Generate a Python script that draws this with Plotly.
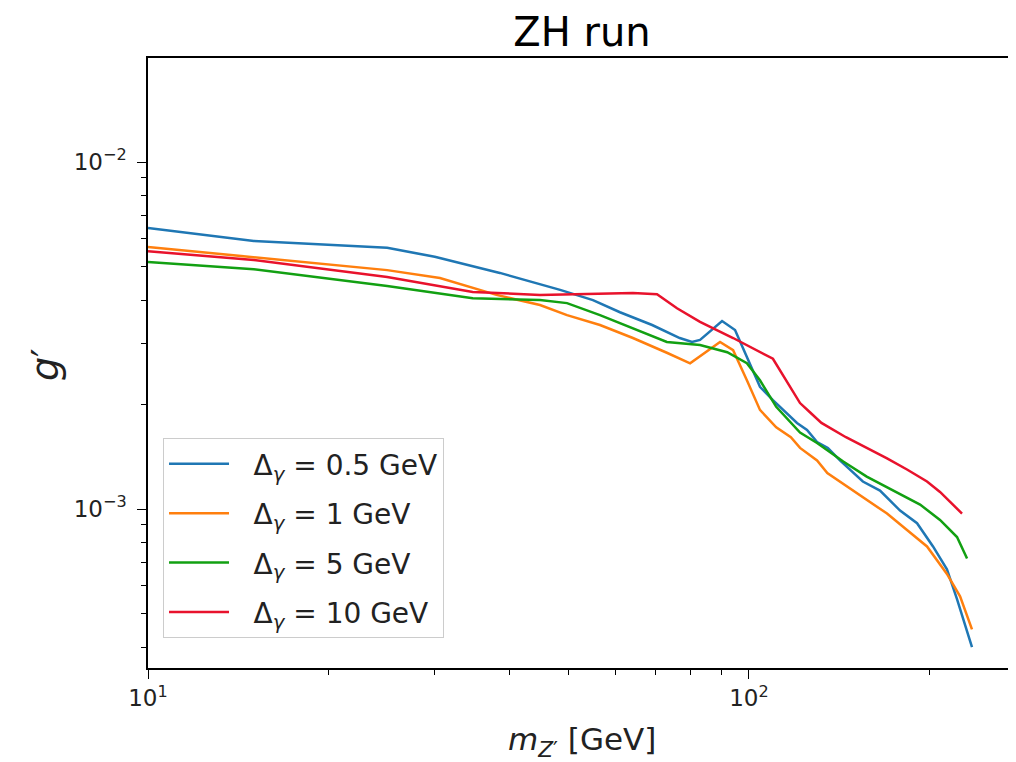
import plotly.graph_objects as go

# ---- data ----
mass_05 = [10, 15, 25, 30, 38.5, 45, 48.5, 55, 61, 69, 76.7, 80.4, 82.9, 90.2, 94.8, 99.2,
           104.3, 109.6, 115.7, 120.2, 124.9, 129.8, 135.3, 141.7, 154.7, 165.2, 178.4,
           190.4, 202.4, 213.5, 221.9, 235]
g_05 = [0.00645, 0.00592, 0.00566, 0.00533, 0.00479, 0.00445, 0.00428, 0.00400, 0.00369,
        0.00339, 0.00311, 0.00303, 0.00307, 0.00348, 0.00328, 0.00274, 0.00225, 0.00206,
        0.00189, 0.00177, 0.00169, 0.00156, 0.00150, 0.00138, 0.00120, 0.00113, 0.00099,
        0.00091, 0.00078, 0.00067, 0.00055, 0.00040]

mass_1 = [10, 15, 25, 30.6, 38, 44.9, 49.8, 56.5, 64.1, 73, 79.8, 89.5, 94.1, 99.2, 104.3,
          111, 117.4, 121.6, 129.8, 135, 148.9, 157, 169.7, 183.2, 197.8, 213.5, 224.5, 235]
g_1 = [0.00569, 0.00532, 0.00488, 0.00463, 0.00414, 0.00387, 0.00362, 0.00339, 0.00311,
       0.00282, 0.00263, 0.00303, 0.00287, 0.00235, 0.00193, 0.00172, 0.00161, 0.00150,
       0.00138, 0.00127, 0.00113, 0.00106, 0.00097, 0.00087, 0.00078, 0.00065, 0.00056,
       0.00045]

mass_5 = [10, 15, 25, 34.7, 44.9, 49.8, 56.5, 64.1, 73, 82.9, 92, 99.2, 104.3, 111, 121.6,
          129.8, 143.5, 157, 173.6, 192.6, 207.9, 221.9, 230.6]
g_5 = [0.00515, 0.00491, 0.00439, 0.00405, 0.00400, 0.00392, 0.00362, 0.00332, 0.00303,
       0.00297, 0.00283, 0.00263, 0.00235, 0.00197, 0.00166, 0.00155, 0.00137, 0.00124,
       0.00113, 0.00103, 0.00093, 0.00083, 0.00072]

mass_10 = [10, 15, 25, 34.7, 44.9, 49.8, 64.1, 70.3, 75.9, 82.9, 94.1, 109.6, 116, 120.2,
           121.6, 126.3, 132, 145, 157, 169.7, 183.2, 197.8, 207.9, 226.2]
g_10 = [0.00553, 0.00522, 0.00466, 0.00422, 0.00414, 0.00416, 0.00419, 0.00416, 0.00379,
        0.00346, 0.00311, 0.00271, 0.00232, 0.00209, 0.00202, 0.00190, 0.00177, 0.00161,
        0.00150, 0.00140, 0.00130, 0.00120, 0.00112, 0.00097]

series_labels = ["Δ<sub><i>γ</i></sub> = 0.5 GeV", "Δ<sub><i>γ</i></sub> = 1 GeV",
                 "Δ<sub><i>γ</i></sub> = 5 GeV", "Δ<sub><i>γ</i></sub> = 10 GeV"]
series_x = [mass_05, mass_1, mass_5, mass_10]
series_y = [g_05, g_1, g_5, g_10]
colors = ["#1f77b4", "#ff7f0e", "#12a012", "#e8122c"]

x_major = [10, 100]
x_major_text = ["10<sup>1</sup>", "10<sup>2</sup>"]
x_minor = [20, 30, 40, 50, 60, 70, 80, 90, 200]
y_major = [1e-3, 1e-2]
y_major_text = ["10<sup>−3</sup>", "10<sup>−2</sup>"]
y_minor = [4e-4, 5e-4, 6e-4, 7e-4, 8e-4, 9e-4, 2e-3, 3e-3, 4e-3, 5e-3, 6e-3, 7e-3, 8e-3, 9e-3, 2e-2]

FONT = "DejaVu Sans"
W, H = 1008, 754  # page body has an 8px margin

fig = go.Figure()
for i, (xs, ys, lab, c) in enumerate(zip(series_x, series_y, series_labels, colors)):
    fig.add_trace(go.Scatter(x=xs, y=ys, mode="lines", name="\u2002\u2009" + lab,
                             line=dict(color=c, width=2.5), legendgroup=f"g{i}"))

fig.update_layout(
    width=W, height=H,
    margin=dict(l=140, r=0, t=50, b=94, autoexpand=False),
    paper_bgcolor="white", plot_bgcolor="white",
    font=dict(family=FONT, color="#222222"),
    title=dict(text="ZH run", x=0.5, xref="paper", xanchor="center",
               y=1 - 24 / H, yref="container", yanchor="middle",
               font=dict(size=40, family=FONT, color="black")),
    showlegend=True,
    legend=dict(x=0.0173, y=0.049, xanchor="left", yanchor="bottom",
                bgcolor="rgba(255,255,255,0.8)", bordercolor="#cccccc", borderwidth=1,
                font=dict(size=28, family=FONT, color="#222222"),
                tracegroupgap=10, itemwidth=60),
)

fig.update_xaxes(type="log", range=[1, 2.4443], showgrid=False, zeroline=False,
                 showline=True, linecolor="black", linewidth=1.5, mirror=True,
                 ticks="outside", ticklen=9, tickwidth=1.3, tickcolor="black",
                 tickvals=x_major, ticktext=x_major_text, automargin=False,
                 tickfont=dict(size=23, family=FONT, color="#222222"),
                 minor=dict(ticks="outside", ticklen=5, tickwidth=1, tickcolor="black",
                            tickvals=x_minor, showgrid=False))
fig.update_yaxes(type="log", range=[-3.4582, -1.7003], showgrid=False, zeroline=False,
                 showline=True, linecolor="black", linewidth=1.5, mirror=False,
                 ticks="outside", ticklen=9, tickwidth=1.3, tickcolor="black",
                 tickvals=y_major, ticktext=y_major_text, automargin=False,
                 ticklabelstandoff=6,
                 tickfont=dict(size=23, family=FONT, color="#222222"),
                 minor=dict(ticks="outside", ticklen=5, tickwidth=1, tickcolor="black",
                            tickvals=y_minor, showgrid=False))

fig.add_annotation(text="<i>m</i><sub><i>Z</i>′</sub> [GeV]",
                   xref="paper", yref="paper",
                   x=0.5, y=(660 - 733) / 610, xanchor="center", yanchor="middle",
                   showarrow=False, font=dict(size=31, family=FONT, color="#222222"))
fig.add_annotation(text="<i>g</i>′", xref="paper", yref="paper",
                   x=(37 - 140) / 868, y=(660 - 357) / 610, xanchor="center", yanchor="middle",
                   textangle=-90, showarrow=False, font=dict(size=38, family=FONT, color="#222222"))

fig.write_html("out.html")
